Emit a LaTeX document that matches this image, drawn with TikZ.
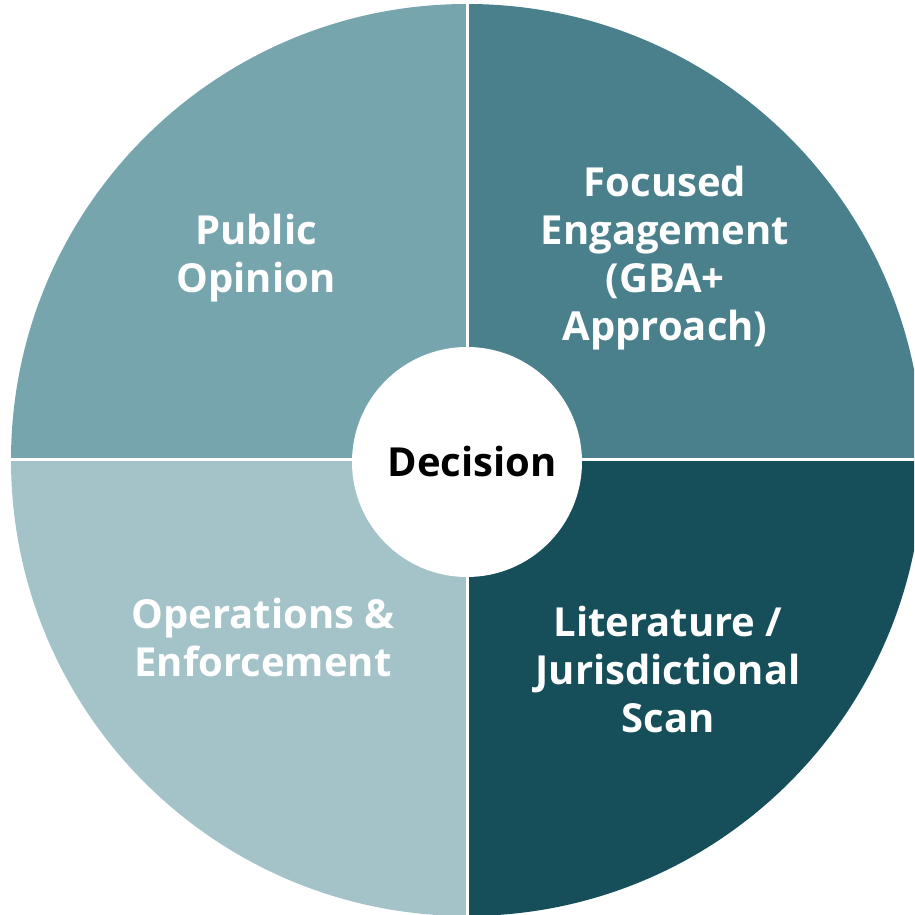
\documentclass[tikz,border=0pt]{standalone}
\usepackage{fontspec}
\setmainfont{Open Sans}
\usepackage{tikz}
\usetikzlibrary{positioning}

\definecolor{pubcol}{HTML}{77A5AE}
\definecolor{foccol}{HTML}{4A808B}
\definecolor{opscol}{HTML}{A3C3C8}
\definecolor{litcol}{HTML}{164E5A}

\tikzset{
    quartertext/.style={text=white, font=\fontsize{40}{48}\selectfont\bfseries, align=center},
    divider/.style={white, line width=3pt}
}

\begin{document}
\begin{tikzpicture}[x=1pt, y=1pt]
                \useasboundingbox (0,0) rectangle (914,915);
                \clip (0,0) rectangle (914,915);
                \coordinate (c) at (467,455);
                \fill[foccol] (c) -- ++(0:456) arc (0:90:456) -- cycle;
                \fill[pubcol] (c) -- ++(90:456) arc (90:180:456) -- cycle;
                \fill[opscol] (c) -- ++(180:456) arc (180:270:456) -- cycle;
                \fill[litcol] (c) -- ++(270:456) arc (270:360:456) -- cycle;
                \draw[divider] (c) -- ++(0:460);
                \draw[divider] (c) -- ++(90:460);
                \draw[divider] (c) -- ++(180:460);
                \draw[divider] (c) -- ++(270:460);
                \node[circle, fill=white, minimum size=230pt, inner sep=0pt] (dec) at (467,453)
                    {\fontsize{40}{48}\selectfont\bfseries\hspace*{10pt}Decision};
                \node[quartertext] (pub) at (256,657) {Public\\Opinion};
                \node[quartertext] (foc) at (665,657) {Focused\\Engagement\\(GBA+\\Approach)};
                \node[quartertext] (ops) at (263,277) {Operations \&\\Enforcement};
                \node[quartertext] (lit) at (668,245) {Literature /\\Jurisdictional\\Scan};
            \end{tikzpicture}
\end{document}
